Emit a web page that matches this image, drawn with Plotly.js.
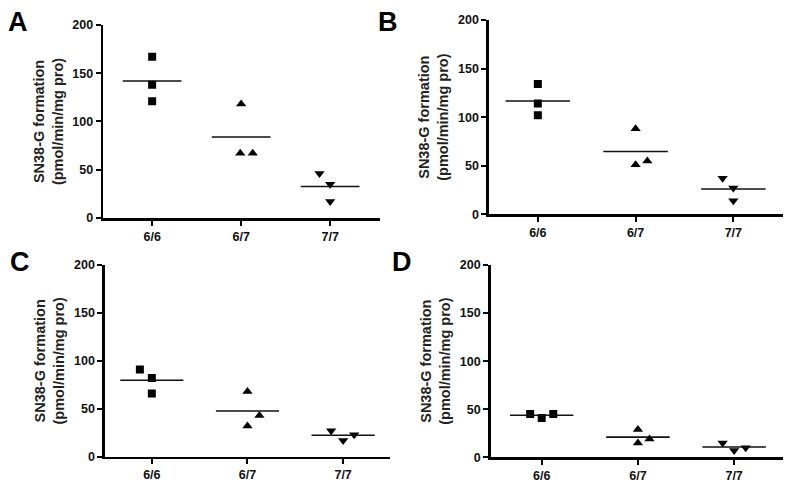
<!DOCTYPE html>
<html>
<head>
<meta charset="utf-8">
<script src="https://cdn.plot.ly/plotly-3.0.1.min.js"></script>
<style>html,body{margin:0;padding:0;background:#fff;}#chart{width:800px;height:485px;}</style>
</head>
<body>
<div id="chart"></div>
<script>
// Categories (genotypes) and tick labels
const categories = ["6/6", "6/7", "7/7"];
const yTicks = [0, 50, 100, 150, 200];
const panelLetters = ["A", "B", "C", "D"];

// SN38-G formation values (pmol/min/mg pro), three donors per genotype
const panelA_66 = [167, 138, 121];
const panelA_67 = [118, 67, 67];
const panelA_77 = [46, 35, 17];

const panelB_66 = [134, 114, 102];
const panelB_67 = [88, 51, 55];
const panelB_77 = [37, 27, 14];

const panelC_66 = [91, 82, 66];
const panelC_67 = [68, 43, 32];
const panelC_77 = [27, 17, 23];

const panelD_66 = [45, 41, 45];
const panelD_67 = [29, 15, 19];
const panelD_77 = [15, 7, 10];

// horizontal jitter of points within a column (category units)
const jitterA = [[0, 0, 0], [0, -0.01, 0.13], [-0.12, 0, 0]];
const jitterB = [[0, 0, 0], [0, 0, 0.12], [-0.11, 0, 0]];
const jitterC = [[-0.125, 0, 0], [0, 0.125, 0], [-0.125, 0, 0.115]];
const jitterD = [[-0.12, 0, 0.12], [0, 0, 0.12], [-0.12, 0, 0.12]];

const panels = [
  {groups: [panelA_66, panelA_67, panelA_77], jitter: jitterA, dom: {x: [0.1290, 0.4750], y: [0.5505, 0.9485]}, xr: [0.45, 3.56]},
  {groups: [panelB_66, panelB_67, panelB_77], jitter: jitterB, dom: {x: [0.6112, 0.9790], y: [0.5581, 0.9588]}, xr: [0.50, 3.51]},
  {groups: [panelC_66, panelC_67, panelC_77], jitter: jitterC, dom: {x: [0.1312, 0.4875], y: [0.0584, 0.4536]}, xr: [0.51, 3.49]},
  {groups: [panelD_66, panelD_67, panelD_77], jitter: jitterD, dom: {x: [0.6134, 0.9790], y: [0.0571, 0.4536]}, xr: [0.47, 3.51]}
];
const symbols = ["square", "triangle-up", "triangle-down"];
const msize = [8, 9, 9];

const traces = [];
const layout = {
  width: 800, height: 485,
  margin: {l: 0, r: 0, t: 0, b: 0},
  paper_bgcolor: "#fff", plot_bgcolor: "#fff",
  showlegend: false,
  font: {family: "Liberation Sans, Arial, sans-serif", color: "#111"},
  annotations: []
};

const letterPos = [[0.008, 0.99], [0.470, 0.99], [0.010, 0.495], [0.487, 0.495]];

panels.forEach((p, i) => {
  const n = i + 1;
  const xa = "x" + (n === 1 ? "" : n);
  const ya = "y" + (n === 1 ? "" : n);
  // points
  p.groups.forEach((vals, g) => {
    traces.push({
      type: "scatter", mode: "markers", xaxis: xa, yaxis: ya,
      x: vals.map((v, k) => g + 1 + p.jitter[g][k]),
      y: vals,
      marker: {symbol: symbols[g], size: msize[g], color: "#000"},
      hoverinfo: "y"
    });
  });
  // mean lines
  const lx = [], ly = [];
  p.groups.forEach((vals, g) => {
    const m = vals.reduce((a, b) => a + b, 0) / vals.length;
    lx.push(g + 1 - 0.33, g + 1 + 0.33, null);
    ly.push(m, m, null);
  });
  traces.push({type: "scatter", mode: "lines", xaxis: xa, yaxis: ya, x: lx, y: ly,
    line: {color: "#111", width: 1.6}, hoverinfo: "skip"});

  layout["xaxis" + (n === 1 ? "" : n)] = {
    domain: p.dom.x, anchor: ya, range: p.xr,
    tickvals: [1, 2, 3], ticktext: categories,
    showline: true, linecolor: "#000", linewidth: 2.5,
    ticks: "outside", ticklen: 5, tickwidth: 2, tickcolor: "#000",
    showgrid: false, zeroline: false,
    tickfont: {size: 12.5, weight: "bold", color: "#111"}
  };
  layout["yaxis" + (n === 1 ? "" : n)] = {
    domain: p.dom.y, anchor: xa, range: [0, 200],
    tickvals: yTicks,
    showline: true, linecolor: "#000", linewidth: 2.5,
    ticks: "outside", ticklen: 5, tickwidth: 2, tickcolor: "#000",
    showgrid: false, zeroline: false,
    tickfont: {size: 12.5, weight: "bold", color: "#111"},
    title: {text: "SN38-G formation<br>(pmol/min/mg pro)", font: {size: 14.5, weight: "bold", color: "#222"}, standoff: 6}
  };
  layout.annotations.push({
    xref: "paper", yref: "paper", x: letterPos[i][0], y: letterPos[i][1],
    xanchor: "left", yanchor: "top", showarrow: false,
    text: panelLetters[i], font: {size: 27, weight: "bold", color: "#000"}
  });
});

Plotly.newPlot("chart", traces, layout, {displayModeBar: false, staticPlot: true});
</script>
</body>
</html>
